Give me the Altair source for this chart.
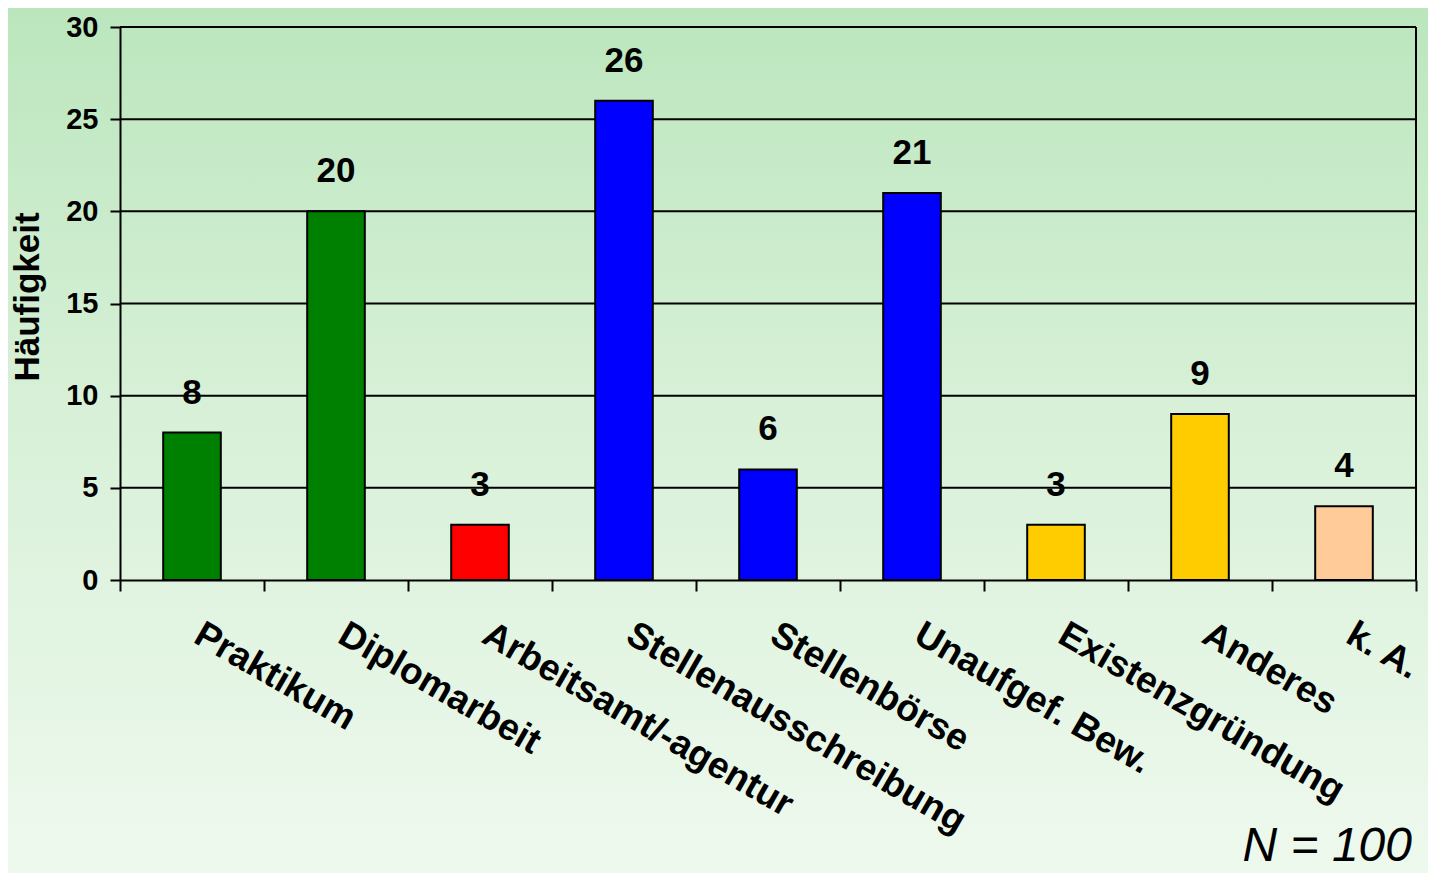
import altair as alt
import pandas as pd

# ---- data ----
categories = ["Praktikum", "Diplomarbeit", "Arbeitsamt/-agentur", "Stellenausschreibung",
              "Stellenbörse", "Unaufgef. Bew.", "Existenzgründung", "Anderes", "k. A."]
counts = [8, 20, 3, 26, 6, 21, 3, 9, 4]
bar_colors = ["#008000", "#008000", "#ff0000", "#0000ff", "#0000ff", "#0000ff",
              "#ffcc00", "#ffcc00", "#ffcc99"]
y_ticks = [0, 5, 10, 15, 20, 25, 30]
grid_values = [5, 10, 15, 20, 25, 30]
y_title = "Häufigkeit"
note_text = ["N = 100"]

W, H = 1296, 553
PAD = {"left": 112, "top": 19, "right": 12, "bottom": 293}
FONT = "Liberation Sans"

df = pd.DataFrame({"cat": categories, "n": counts})
grid_df = pd.DataFrame({"n": grid_values})
note_df = pd.DataFrame({"t": note_text})

yscale = alt.Scale(domain=[0, 30], nice=False, zero=True)
xscale = alt.Scale(paddingInner=0, paddingOuter=0)

yaxis = alt.Axis(
    values=y_ticks, title=y_title, grid=False,
    labelFontSize=29, labelFontWeight="bold", labelFont=FONT, labelColor="black",
    labelPadding=12, tickSize=10, tickColor="black", tickWidth=2,
    domainColor="black", domainWidth=2,
    titleFontSize=35, titleFontWeight="bold", titleFont=FONT, titleColor="black",
    titleX=-93, titleY=H / 2 - 7, titleAlign="center", titleBaseline="middle",
    titleAngle=270, zindex=1,
)
xaxis = alt.Axis(
    title=None, labelAngle=30, labelAlign="left", labelBaseline="top",
    labelOffset=14, labelPadding=25, labelFontSize=37, labelFontWeight="bold",
    labelFont=FONT, labelColor="black", labelLimit=1000, labelOverlap=False,
    tickBand="extent", tickSize=11, tickColor="black", tickWidth=2,
    domainColor="black", domainWidth=2, grid=False, zindex=1,
)

yenc = alt.Y("n:Q", scale=yscale, axis=yaxis, title=y_title)
xenc = alt.X("cat:N", sort=categories, scale=xscale, axis=xaxis, title=None)

bg = alt.Chart(alt.Data(values=[{"a": 1}])).mark_rect(
    fill=alt.Gradient(
        gradient="linear",
        stops=[alt.GradientStop(color="#bbe6bd", offset=0),
               alt.GradientStop(color="#d7f0d7", offset=0.45),
               alt.GradientStop(color="#eef9ee", offset=1)],
        x1=0, y1=0, x2=0, y2=1),
    strokeWidth=0,
).encode(
    x=alt.value(-PAD["left"]), x2=alt.value(W + PAD["right"]),
    y=alt.value(-PAD["top"]), y2=alt.value(H + PAD["bottom"]),
)

grid = alt.Chart(grid_df).mark_rule(color="black", strokeWidth=2).encode(
    y=yenc,
    x=alt.value(0), x2=alt.value(W),
)

frame = alt.Chart(alt.Data(values=[{"a": 1}])).mark_rule(color="black", strokeWidth=2).encode(
    x=alt.value(W), y=alt.value(0), y2=alt.value(H),
)

bars = alt.Chart(df).mark_bar(
    width=alt.RelativeBandSize(0.4), stroke="black", strokeWidth=2,
).encode(
    x=xenc,
    y=yenc,
    color=alt.Color("cat:N", scale=alt.Scale(domain=categories, range=bar_colors), legend=None),
)

labels = alt.Chart(df).mark_text(
    font=FONT, fontSize=35, fontWeight="bold", color="black",
    baseline="alphabetic", align="center", dy=-29,
).encode(
    x=xenc,
    y=yenc,
    text=alt.Text("n:Q"),
)

note = alt.Chart(note_df).mark_text(
    font=FONT, fontSize=48, fontStyle="italic", color="black",
    align="right", baseline="alphabetic",
).encode(
    x=alt.value(W - 4), y=alt.value(H + 281), text="t:N",
)

chart = alt.layer(bg, grid, bars, labels, frame, note).properties(
    width=W, height=H,
    autosize=alt.AutoSizeParams(type="none"),
    padding=PAD,
).configure_view(stroke=None).configure(background="#e6f5e6")

chart.save("out.html", embed_options={"renderer": "svg", "actions": False})
